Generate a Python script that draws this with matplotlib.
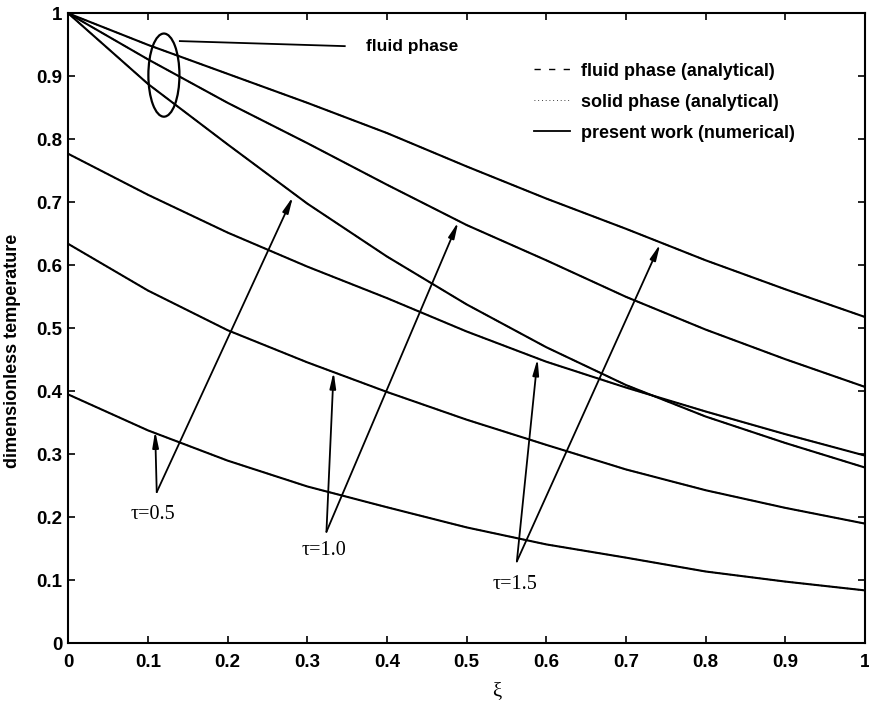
import matplotlib
matplotlib.use("Agg")
import matplotlib.pyplot as plt
from matplotlib.patches import Ellipse

# xi grid and curves
xi = [0.0, 0.1, 0.2, 0.3, 0.4, 0.5, 0.6, 0.7, 0.8, 0.9, 1.0]

fluid_t05 = [1.0, 0.888, 0.792, 0.698, 0.614, 0.538, 0.470, 0.410, 0.360, 0.318, 0.279]
fluid_t10 = [1.0, 0.927, 0.858, 0.794, 0.728, 0.664, 0.608, 0.550, 0.498, 0.451, 0.407]
fluid_t15 = [1.0, 0.950, 0.904, 0.858, 0.810, 0.757, 0.706, 0.658, 0.608, 0.562, 0.518]

solid_t05 = [0.395, 0.338, 0.290, 0.249, 0.216, 0.184, 0.157, 0.136, 0.114, 0.098, 0.084]
solid_t10 = [0.634, 0.560, 0.497, 0.446, 0.399, 0.355, 0.315, 0.276, 0.243, 0.215, 0.190]
solid_t15 = [0.777, 0.712, 0.652, 0.598, 0.548, 0.495, 0.447, 0.406, 0.368, 0.332, 0.298]

fluid_curves = [fluid_t05, fluid_t10, fluid_t15]
solid_curves = [solid_t05, solid_t10, solid_t15]

tau_labels = ["\u03c4=0.5", "\u03c4=1.0", "\u03c4=1.5"]
# label position, arrow vertex, arrow tips (solid curve, fluid curve)
tau_text = [(0.106, 0.204), (0.321, 0.148), (0.561, 0.093)]
tau_vertex = [(0.111, 0.240), (0.324, 0.177), (0.563, 0.130)]
tau_tip_solid = [(0.109, 0.337), (0.333, 0.431), (0.589, 0.452)]
tau_tip_fluid = [(0.282, 0.709), (0.4895, 0.669), (0.743, 0.634)]

ticks = [0, 0.1, 0.2, 0.3, 0.4, 0.5, 0.6, 0.7, 0.8, 0.9, 1]
tick_labels = ["0", "0.1", "0.2", "0.3", "0.4", "0.5", "0.6", "0.7", "0.8", "0.9", "1"]

sans = ["Liberation Sans", "DejaVu Sans"]
serif = ["Liberation Serif", "DejaVu Serif"]

fig = plt.figure(figsize=(8.69, 7.04), dpi=100)
ax = fig.add_axes([0.0786, 0.0862, 0.9168, 0.8948])

for f in fluid_curves:
    ax.plot(xi, f, color="k", ls=(0, (5, 4)), lw=1.0)
for s in solid_curves:
    ax.plot(xi, s, color="k", ls=":", lw=1.0)
for c in fluid_curves + solid_curves:
    ax.plot(xi, c, color="k", lw=1.5)

# legend proxies
h1, = ax.plot([], [], color="k", ls=(0, (4.5, 6)), lw=1.0, label="fluid phase (analytical)")
h2, = ax.plot([], [], color="k", ls=(0, (1, 3.5)), lw=0.6, label="solid phase (analytical)")
h3, = ax.plot([], [], color="k", lw=1.3, label="present work (numerical)")
ax.legend(handles=[h1, h2, h3], loc="upper left", bbox_to_anchor=(0.585, 0.922),
          frameon=False, borderpad=0, borderaxespad=0, handlelength=2.0,
          handletextpad=0.6, labelspacing=0.78,
          prop={"family": sans, "weight": "bold", "size": 13})

# ellipse marking the fluid phase curves
ax.add_patch(Ellipse((0.120, 0.902), 0.039, 0.132, fill=False, lw=1.6, color="k"))
ax.plot([0.140, 0.347], [0.956, 0.948], color="k", lw=1.3)
ax.text(0.374, 0.948, "fluid phase", family=sans, weight="bold", size=12.5,
        va="center", ha="left")

arrow = dict(arrowstyle="-|>,head_length=0.95,head_width=0.18", color="k",
             lw=1.3, shrinkA=0, shrinkB=0, mutation_scale=10)
for lab, tpos, v, ts, tf in zip(tau_labels, tau_text, tau_vertex, tau_tip_solid, tau_tip_fluid):
    ax.annotate("", xy=ts, xytext=v, arrowprops=arrow)
    ax.annotate("", xy=tf, xytext=v, arrowprops=arrow)
    ax.text(tpos[0], tpos[1], lab, family=serif, size=14.5, ha="center", va="center")

ax.set_xlim(0, 1)
ax.set_ylim(0, 1)
ax.set_xticks(ticks)
ax.set_yticks(ticks)
ax.set_xticklabels(tick_labels, family=sans, weight="bold", size=13.5)
ax.set_yticklabels(tick_labels, family=sans, weight="bold", size=13.5)
ax.tick_params(direction="in", length=5, width=1.2, top=True, right=True)
ax.tick_params(axis="x", pad=8)
ax.tick_params(axis="y", pad=4)
for sp in ax.spines.values():
    sp.set_linewidth(1.5)

ax.set_ylabel("dimensionless temperature", family=sans, weight="bold", size=13)
ax.yaxis.set_label_coords(-0.06, 0.464)
ax.set_xlabel("\u03be", family=serif, size=15)
ax.xaxis.set_label_coords(0.538, -0.062)

fig.savefig("out.png", dpi=100)
